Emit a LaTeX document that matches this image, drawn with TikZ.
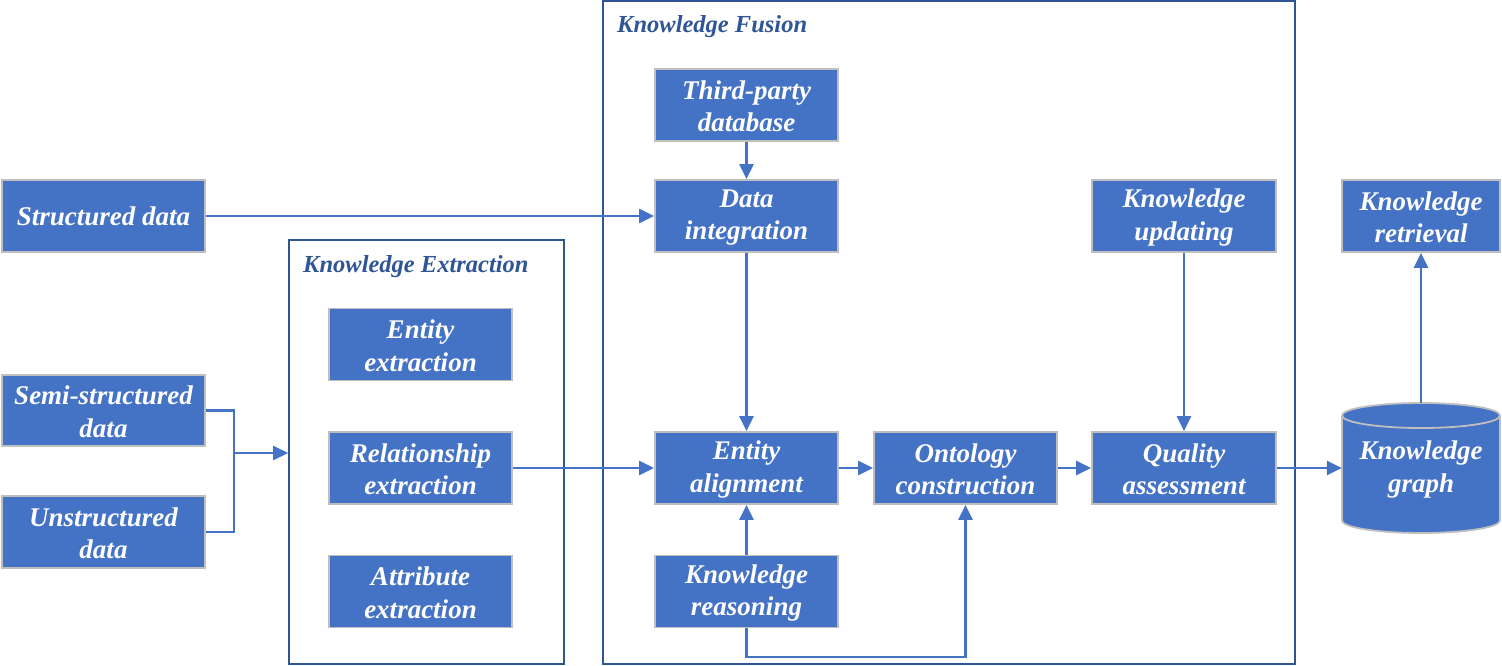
\documentclass[tikz,border=0pt]{standalone}
\usepackage{fontspec}
\setmainfont{Liberation Serif}
\usetikzlibrary{arrows.meta}
\definecolor{boxblue}{HTML}{4472C4}
\definecolor{boxedge}{HTML}{BFBFBF}
\definecolor{darkblue}{HTML}{2F5597}
\tikzset{
  box/.style={draw=boxedge, line width=1.8pt, fill=boxblue,
    minimum width=183pt, minimum height=72pt, inner sep=0pt},
  boxtext/.style={text=white, inner sep=0pt, align=center,
    font=\bfseries\itshape\fontsize{27}{32.5}\selectfont},
  container/.style={draw=darkblue, line width=1.6pt, inner sep=0pt},
  title/.style={text=darkblue, inner sep=0pt, anchor=north west,
    font=\bfseries\itshape\fontsize{24.5}{28}\selectfont},
  conn/.style={draw=boxblue, line width=2.5pt},
  arr/.style={conn, -{Triangle[length=15pt,width=14pt]}},
  cyl/.style={line width=1.8pt},
}
% box with a text layer: [options]{name}{centre}{text}{text shift}
\newcommand\kbox[5][]{%
  \node[box,#1] (#2) at (#3) {};
  \node[boxtext] (#2-t) at ([yshift=#5]#2.center) {#4};}
\begin{document}
\begin{tikzpicture}[x=1pt,y=-1pt]
\useasboundingbox (0,0) rectangle (1502,666);
% containers
\node[container, minimum width=275pt, minimum height=424pt] (ke) at (426.5,452) {};
\node[container, minimum width=692pt, minimum height=663pt] (kf) at (949,332.5) {};
\node[title] (ketitle) at (303,255) {Knowledge Extraction};
\node[title] (kftitle) at (617,15) {Knowledge Fusion};
% boxes
\kbox[minimum width=203pt]{sd}{103.5,216}{Structured data}{0pt}
\kbox[minimum width=203pt, minimum height=71pt]{semi}{103.5,410.5}{Semi-structured\\data}{-1.5pt}
\kbox[minimum width=203pt]{uns}{103.5,532}{Unstructured\\data}{-1.5pt}
\kbox{ent}{420.5,344.5}{Entity\\extraction}{-1.5pt}
\kbox{rel}{420.5,468}{Relationship\\extraction}{-1.5pt}
\kbox{att}{420.5,591.5}{Attribute\\extraction}{-1.5pt}
\kbox{tp}{746.5,105}{Third-party\\database}{-1.5pt}
\kbox{di}{746.5,216}{Data\\integration}{-1.5pt}
\kbox{ea}{746.5,468}{Entity\\alignment}{-1.5pt}
\kbox{kr}{746.5,591.5}{Knowledge\\reasoning}{-1.5pt}
\kbox{oc}{965.5,468}{Ontology\\construction}{-1.5pt}
\kbox[minimum width=184pt]{ku}{1184,216}{Knowledge\\updating}{-1.5pt}
\kbox[minimum width=184pt]{qa}{1184,468}{Quality\\assessment}{-1.5pt}
\kbox[minimum width=158pt]{kret}{1421,216}{Knowledge\\retrieval}{-1.5pt}
% cylinder (knowledge graph)
\fill[boxblue] (1342,415.5) -- (1342,520.5) arc[start angle=180,end angle=0,x radius=79,y radius=12.5] -- (1500,415.5) arc[start angle=360,end angle=180,x radius=79,y radius=12.5] -- cycle;
\draw[boxedge, cyl] (1342,415.5) -- (1342,520.5) arc[start angle=180,end angle=0,x radius=79,y radius=12.5] -- (1500,415.5) arc[start angle=360,end angle=180,x radius=79,y radius=12.5];
\draw[boxedge, cyl] (1342,415.5) arc[start angle=180,end angle=0,x radius=79,y radius=12.5];
\node[minimum width=158pt, minimum height=130pt, inner sep=0pt] (kg) at (1421,468) {};
\node[boxtext] (kg-t) at ([yshift=-1.5pt]kg.center) {Knowledge\\graph};
% connectors
\draw[arr] (sd.east) -- (di.west);
\coordinate (j) at (234,453);
\draw[conn] (semi.east) -| (j);
\draw[conn] (uns.east) -| (j);
\draw[arr] (j) -- (ke.west |- j);
\draw[arr] (rel.east) -- (ea.west);
\draw[arr] (tp.south) -- (di.north);
\draw[arr] (di.south) -- (ea.north);
\draw[arr] (kr.north) -- (ea.south);
\draw[arr] (ea.east) -- (oc.west);
\coordinate (lb) at (746.5,657);
\draw[arr] (kr.south) -- (lb) -| (oc.south);
\draw[arr] (oc.east) -- (qa.west);
\draw[arr] (ku.south) -- (qa.north);
\draw[arr] (qa.east) -- (kg.west);
\draw[arr] (kg.north) -- (kret.south);
\end{tikzpicture}
\end{document}
